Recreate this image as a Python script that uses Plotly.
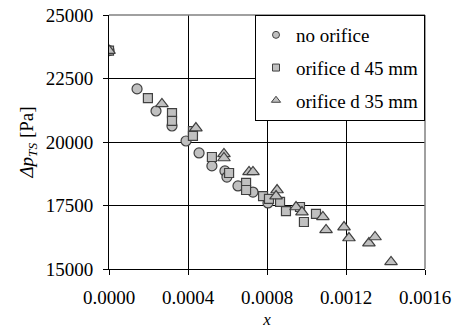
import plotly.graph_objects as go

# no orifice
x_none = [0.0, 0.000142, 0.000238, 0.000319, 0.000390, 0.000456, 0.000521, 0.000587, 0.000597, 0.000653, 0.000729, 0.000805]
y_none = [23600, 22090, 21220, 20630, 20040, 19570, 19060, 18860, 18620, 18270, 18030, 17600]

# orifice d 45 mm
x_45 = [0.0, 0.000197, 0.000319, 0.000319, 0.000425, 0.000425, 0.000521, 0.000608, 0.000694, 0.000694, 0.000780, 0.000810, 0.000866, 0.000896, 0.000967, 0.000987, 0.001048]
y_45 = [23600, 21730, 21140, 20830, 20430, 20240, 19410, 18780, 18390, 18110, 17870, 17760, 17640, 17280, 17440, 16850, 17170]

# orifice d 35 mm
x_35 = [0.0, 0.000268, 0.000440, 0.000582, 0.000582, 0.000709, 0.000729, 0.000851, 0.000846, 0.000947, 0.000977, 0.001083, 0.001099, 0.001190, 0.001215, 0.001316, 0.001347, 0.001428]
y_35 = [23600, 21500, 20550, 19530, 19370, 18820, 18820, 18110, 17870, 17440, 17240, 17050, 16540, 16650, 16220, 16020, 16260, 15280]

series_names = ["no orifice", "orifice d 45 mm", "orifice d 35 mm"]
x_ticks = [0.0, 0.0004, 0.0008, 0.0012, 0.0016]
x_labels = ["0.0000", "0.0004", "0.0008", "0.0012", "0.0016"]
y_ticks = [15000, 17500, 20000, 22500, 25000]
y_labels = ["15000", "17500", "20000", "22500", "25000"]

FONT = "Liberation Serif"
fill = "#c0c0c0"
edge = "#404040"

fig = go.Figure()
specs = [
    (x_none, y_none, "circle", 10, 7),
    (x_45, y_45, "square", 9, 7),
    (x_35, y_35, "triangle-up", 11, 8),
]
for i, (xs, ys, sym, sz, lsz) in enumerate(specs):
    fig.add_trace(go.Scatter(
        x=xs, y=ys, mode="markers", name=series_names[i], showlegend=False,
        marker=dict(symbol=sym, size=sz, color=fill, line=dict(color=edge, width=1.2)),
    ))
for i, (xs, ys, sym, sz, lsz) in enumerate(specs):
    # legend entry with the small legend marker
    fig.add_trace(go.Scatter(
        x=[None], y=[None], mode="markers", name=series_names[i],
        legendgroup=f"g{i}", showlegend=True,
        marker=dict(symbol=sym, size=lsz, color=fill, line=dict(color=edge, width=1)),
    ))

fig.update_layout(
    width=455, height=329,
    margin=dict(l=109, r=30, t=15, b=60, autoexpand=False),
    paper_bgcolor="white", plot_bgcolor="white",
    font=dict(family=FONT, size=19, color="black"),
    showlegend=True,
    legend=dict(
        x=1.0, y=1.0, xanchor="right", yanchor="top",
        bgcolor="white", bordercolor="black", borderwidth=1,
        font=dict(family=FONT, size=19),
        itemsizing="trace", itemwidth=30, tracegroupgap=5,
    ),
    xaxis=dict(
        range=[0, 0.0016], tickvals=x_ticks, ticktext=x_labels,
        tickfont=dict(family=FONT, size=19), automargin=False,
        showgrid=True, gridcolor="black", gridwidth=1,
        showline=True, linecolor="black", linewidth=1,
        ticks="outside", ticklen=5, tickcolor="black", ticklabelstandoff=6,
        zeroline=False,
        title=dict(text="<i>x</i>", font=dict(family=FONT, size=17), standoff=16),
    ),
    yaxis=dict(
        range=[15000, 25000], tickvals=y_ticks, ticktext=y_labels,
        tickfont=dict(family=FONT, size=19), automargin=False,
        showgrid=True, gridcolor="black", gridwidth=1,
        showline=True, linecolor="black", linewidth=1,
        ticks="outside", ticklen=5, tickcolor="black", ticklabelstandoff=6,
        zeroline=False,
        title=dict(text="<i>Δp</i><sub><i>TS</i></sub> [Pa]", font=dict(family=FONT, size=19), standoff=7),
    ),
    shapes=[
        dict(type="line", xref="paper", yref="paper", x0=0, x1=1, y0=1, y1=1,
             line=dict(color="#808080", width=1.5), layer="above"),
        dict(type="line", xref="paper", yref="paper", x0=1, x1=1, y0=0, y1=1,
             line=dict(color="#808080", width=1.5), layer="above"),
    ],
)

fig.write_html("out.html")
